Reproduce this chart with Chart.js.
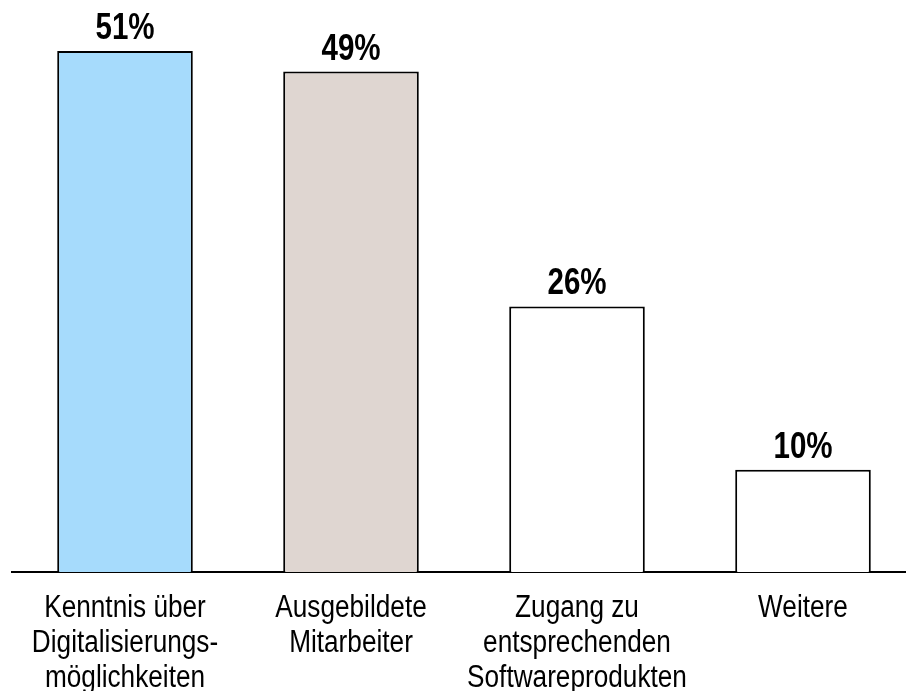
<!DOCTYPE html>
<html><head><meta charset="utf-8">
<script src="https://cdn.jsdelivr.net/npm/chart.js@4.4.0/dist/chart.umd.min.js"></script>
<style>
html,body{margin:0;padding:0;background:#fff;overflow:hidden;}
#wrap{width:916px;height:691px;position:relative;}
</style></head>
<body>
<div id="wrap"><canvas id="c"></canvas></div>
<script>
const categories = [
  ["Kenntnis über", "Digitalisierungs-", "möglichkeiten"],
  ["Ausgebildete", "Mitarbeiter"],
  ["Zugang zu", "entsprechenden", "Softwareprodukten"],
  ["Weitere"]
];
const values = [51, 49, 26, 10];
const valueLabels = ["51%", "49%", "26%", "10%"];
const barColors = ["#a6dbfc", "#dfd6d1", "#ffffff", "#ffffff"];

const FONT = "'Liberation Sans', Arial, sans-serif";

function drawCondensed(ctx, text, x, y, sq) {
  ctx.save();
  ctx.translate(x, y);
  ctx.scale(sq, 1);
  ctx.fillText(text, 0, 0);
  ctx.restore();
}

const labelPlugin = {
  id: 'condensedLabels',
  afterDatasetsDraw(chart) {
    const ctx = chart.ctx;
    const meta = chart.getDatasetMeta(0);
    const xs = chart.scales.x;
    const base = chart.chartArea.bottom;
    ctx.save();
    ctx.fillStyle = '#000';
    ctx.textAlign = 'center';
    ctx.textBaseline = 'alphabetic';
    ctx.font = "bold 36px " + FONT;
    meta.data.forEach((bar, i) => {
      drawCondensed(ctx, valueLabels[i], bar.x, bar.y - 12, 0.82);
    });
    ctx.font = "31px " + FONT;
    chart.data.labels.forEach((lines, i) => {
      const x = xs.getPixelForValue(i);
      lines.forEach((ln, j) => {
        drawCondensed(ctx, ln, x, base + 45 + j * 35, 0.845);
      });
    });
    ctx.restore();
  }
};

new Chart(document.getElementById('c'), {
  type: 'bar',
  data: {
    labels: categories,
    datasets: [{
      data: values,
      backgroundColor: barColors,
      borderColor: '#000',
      borderWidth: 2,
      borderSkipped: 'bottom',
      barPercentage: 0.6,
      categoryPercentage: 1.0
    }]
  },
  options: {
    responsive: true,
    maintainAspectRatio: false,
    animation: false,
    layout: { padding: { left: 12, right: 0, top: 0, bottom: 0 } },
    plugins: { legend: { display: false }, tooltip: { enabled: false } },
    scales: {
      x: {
        grid: { display: false, drawTicks: false },
        border: { display: true, color: '#000', width: 2 },
        ticks: { display: false },
        afterFit(scale) { scale.height = 119; }
      },
      y: {
        display: false,
        min: 0,
        max: 56
      }
    }
  },
  plugins: [labelPlugin]
});
</script>
</body></html>
